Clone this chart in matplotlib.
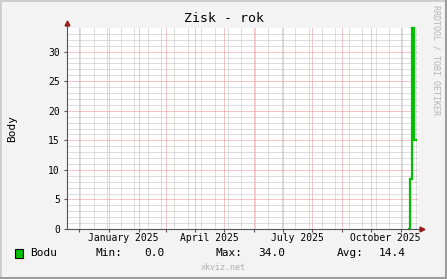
import matplotlib
matplotlib.use("Agg")
import matplotlib.pyplot as plt
from matplotlib.patches import Rectangle
import numpy as np
import pandas as pd

# data
dates = pd.to_datetime(["2025-11-10 00:00", "2025-11-11 00:00", "2025-11-13 00:00",
                        "2025-11-15 12:00", "2025-11-17 00:00"])
values = [0, 8.5, 34, 15, 15]
start = pd.Timestamp("2024-11-19 06:00")
end = pd.Timestamp("2025-11-19 06:00")
label_dates = pd.to_datetime(["2025-01-16", "2025-04-16", "2025-07-16", "2025-10-16"])
label_texts = ["January 2025", "April 2025", "July 2025", "October 2025"]
stats = {"Min:": "0.0", "Max:": "34.0", "Avg:": "14.4"}

W, H = 447, 279
mono = "DejaVu Sans Mono"
plt.rcParams["font.family"] = mono

def fx(px):
    return px / W

def fy(py):
    return 1 - py / H

fig = plt.figure(figsize=(W / 100, H / 100), dpi=100, facecolor="#f3f3f3")
ax = fig.add_axes([fx(67), fy(229), fx(418) - fx(67), fy(28) - fy(229)])
ax.set_facecolor("white")

ax.set_xlim(start, end)
ax.set_ylim(0, 34)

# grid
month_starts = pd.date_range("2024-12-01", "2025-11-01", freq="MS")
two_weeks = pd.date_range("2024-11-18", end, freq="14D")
ax.set_xticks(month_starts)
ax.set_xticks(two_weeks, minor=True)
ax.set_yticks(np.arange(0, 31, 5))
ax.set_yticks(np.arange(0, 34, 1), minor=True)
ax.grid(which="minor", color="#bdbdbd", linestyle=(0, (1, 1)), linewidth=0.72)
ax.grid(which="major", color="#ee8c8c", linestyle=(0, (1, 1)), linewidth=0.72)
ax.set_axisbelow(True)

ax.tick_params(axis="x", which="major", length=2, color="#555555", labelbottom=False)
ax.tick_params(axis="x", which="minor", length=0)
ax.tick_params(axis="y", which="major", length=2, color="#555555", pad=3, labelsize=7)
ax.tick_params(axis="y", which="minor", length=0)

for x, t in zip(label_dates, label_texts):
    ax.text(x, -0.045, t, transform=ax.get_xaxis_transform(), ha="center", va="center",
            fontsize=7)

for s in ["top", "right"]:
    ax.spines[s].set_visible(False)
for s in ["left", "bottom"]:
    ax.spines[s].set_color("#555555")
    ax.spines[s].set_linewidth(0.8)

# arrows on the axes
ax.plot([0, 0], [1, 1.025], color="#555555", linewidth=0.8, transform=ax.transAxes, clip_on=False)
ax.plot([1, 1.012], [0, 0], color="#555555", linewidth=0.8, transform=ax.transAxes, clip_on=False)
ax.plot([0], [1.025], marker="^", markersize=3.5, color="#9b1c1c", transform=ax.transAxes,
        clip_on=False)
ax.plot([1.012], [0], marker=">", markersize=3.5, color="#9b1c1c", transform=ax.transAxes,
        clip_on=False)

# the series
ax.plot(dates, values, drawstyle="steps-post", color="#00c000", linewidth=1.6,
        solid_joinstyle="miter", clip_on=False)

# texts
fig.text(0.5, fy(19), "Zisk - rok", ha="center", va="center", fontsize=9.5)
fig.text(fx(12), fy(128), "Body", rotation=90, ha="center", va="center", fontsize=8)
fig.text(fx(436), fy(5), "RRDTOOL / TOBI OETIKER", rotation=270, ha="center", va="top",
         fontsize=6, color="#b4b4b4")
fig.text(0.5, fy(268), "xkviz.net", ha="center", va="center", fontsize=6, color="#b0b0b0")

# legend row
fig.patches.append(Rectangle((fx(15), fy(258)), fx(8), 9 / H, transform=fig.transFigure,
                             facecolor="#00c000", edgecolor="black", linewidth=0.8))
fig.text(fx(30), fy(253.5), "Bodu", ha="left", va="center", fontsize=8)
xs = [(95, 144), (216, 258), (337, 379)]
for (k, v), (x1, x2) in zip(stats.items(), xs):
    fig.text(fx(x1), fy(253.5), k, ha="left", va="center", fontsize=8)
    fig.text(fx(x2), fy(253.5), v, ha="left", va="center", fontsize=8)

# 3d-ish frame
fig.patches.append(Rectangle((0, 0), 1, 1, transform=fig.transFigure, fill=False,
                             edgecolor="#cccccc", linewidth=2))
fig.add_artist(plt.Line2D([fx(445.5), fx(445.5)], [0, 1], color="#9c9c9c", linewidth=2.2,
                          transform=fig.transFigure))
fig.add_artist(plt.Line2D([0, 1], [fy(277.5), fy(277.5)], color="#9c9c9c", linewidth=2.2,
                          transform=fig.transFigure))

fig.savefig("out.png", dpi=100, facecolor=fig.get_facecolor())
